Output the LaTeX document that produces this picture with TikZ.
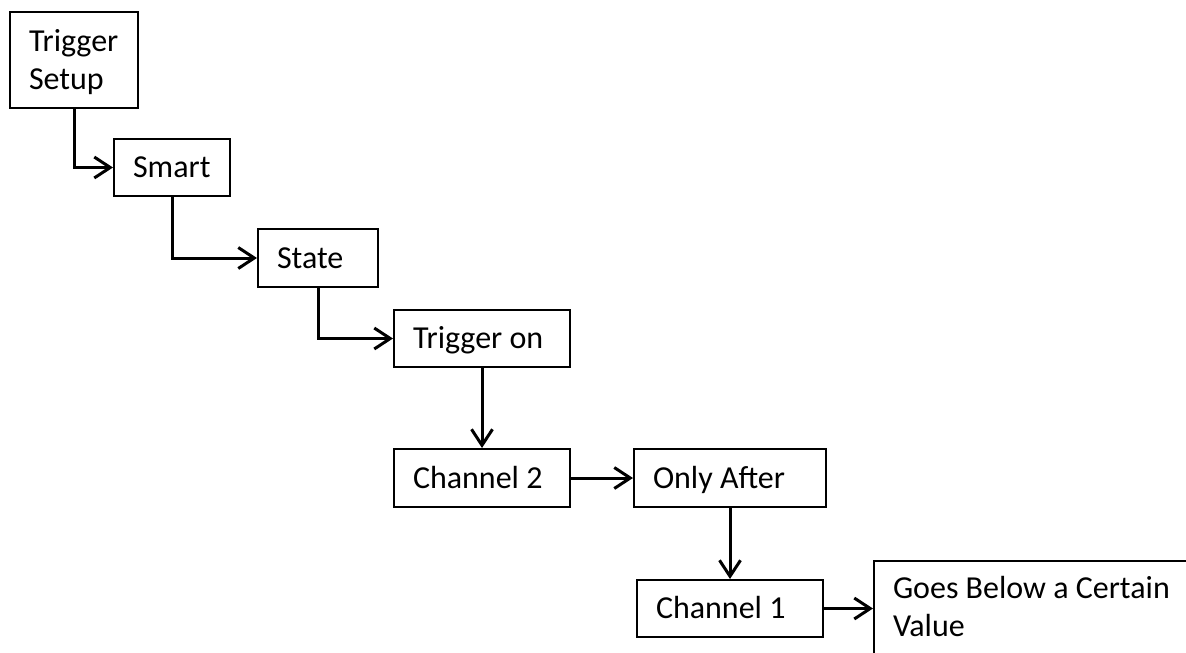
\documentclass[tikz,border=0pt]{standalone}
\usepackage{fontspec}
\setmainfont{Carlito}
\usetikzlibrary{arrows.meta}
\begin{document}
\begin{tikzpicture}[x=1pt,y=-1pt,
  box/.style={draw, line width=2pt, rectangle, inner ysep=0pt, inner xsep=19pt,
    align=left, font=\fontsize{32}{38}\selectfont, text height=20pt, text depth=0pt,
    execute at begin node={\spaceskip=0pt\xspaceskip=0pt\relax}},
  conn/.style={line width=3pt, -{Straight Barb[length=16pt,width=21pt]}}]
\useasboundingbox (0,0) rectangle (1186,653);
\node[box, text width=90pt, minimum height=96pt, text depth=38pt] (ts) at (74,60) {Trigger\\Setup};
\node[box, text width=78pt, minimum height=57pt] (smart) at (172,167.5) {Smart};
\node[box, text width=82pt, minimum height=58pt] (state) at (318,258) {State};
\node[box, text width=138pt, minimum height=57pt] (trig) at (482,338.5) {Trigger on};
\node[box, text width=138pt, minimum height=58pt] (ch2) at (482,478) {Channel 2};
\node[box, text width=154pt, minimum height=58pt] (after) at (730,478) {Only After};
\node[box, text width=148pt, minimum height=57pt] (ch1) at (730,608.5) {Channel 1};
\node[box, text width=288pt, minimum height=99pt, text depth=45pt] (goes) at (1037,610.5) {Goes Below a Certain\\Value};
\draw[conn] (ts.south) |- (smart.west);
\draw[conn] (smart.south) |- (state.west);
\draw[conn] (state.south) |- (trig.west);
\draw[conn] (trig.south) -- (ch2.north);
\draw[conn] (ch2.east) -- (after.west);
\draw[conn] (after.south) -- (ch1.north);
\draw[conn] (ch1.east) -- (ch1.east -| goes.west);
\end{tikzpicture}
\end{document}
